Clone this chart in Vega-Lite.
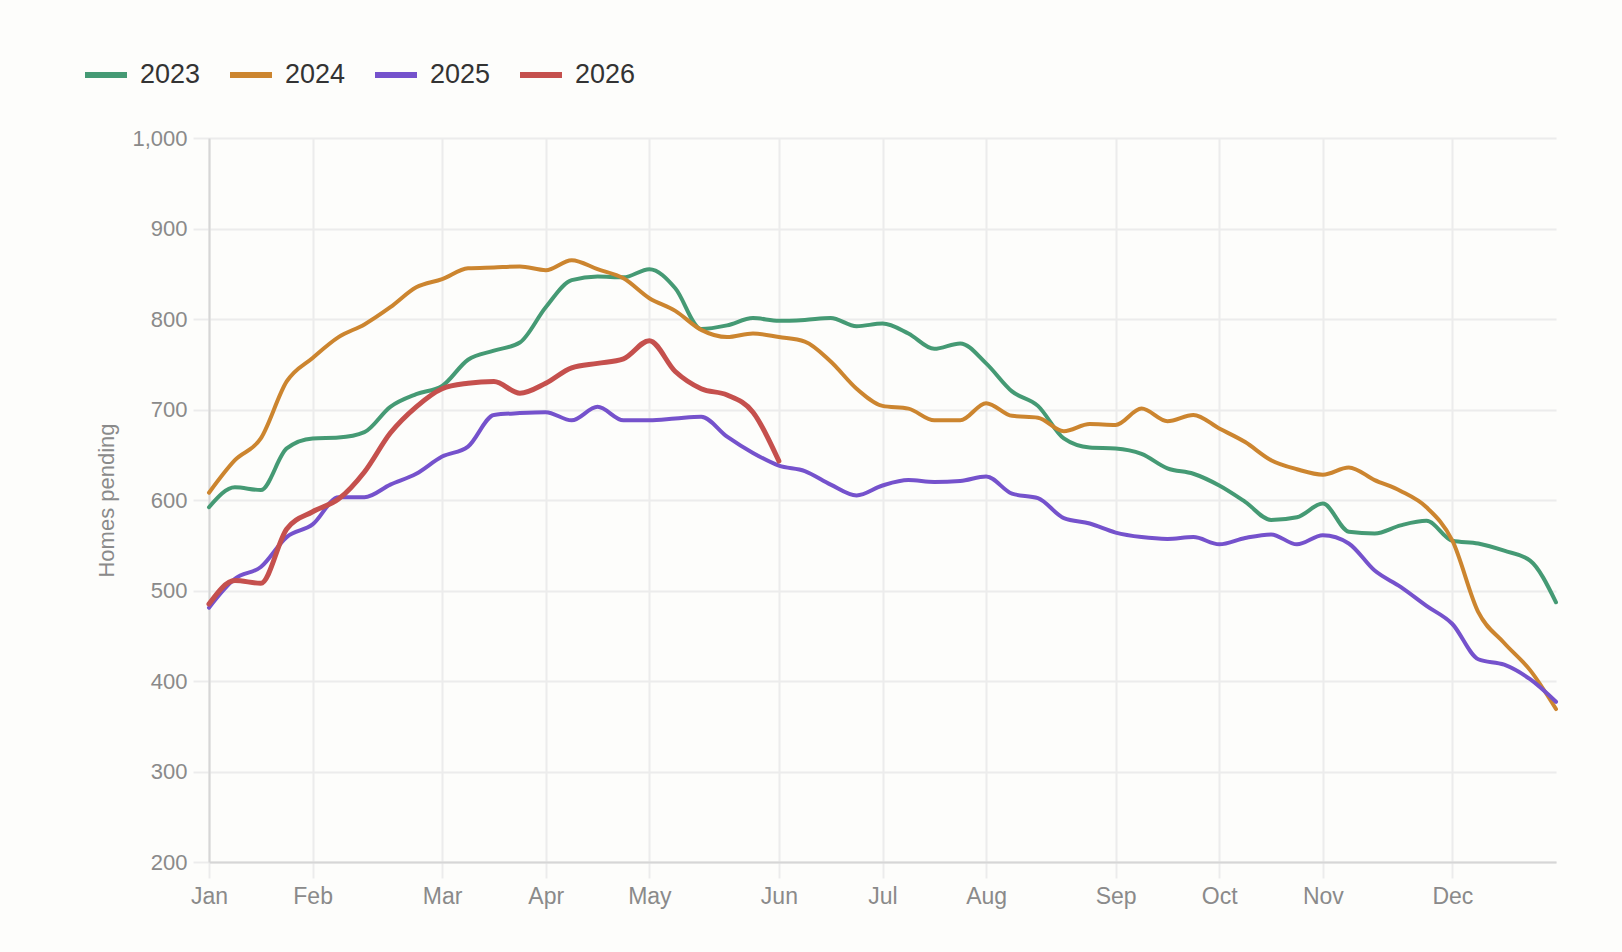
{
  "$schema": "https://vega.github.io/schema/vega-lite/v6.json",
  "description": "Homes pending per week, 2023-2026",
  "autosize": "none",
  "width": 1347,
  "height": 724,
  "padding": {"left": 209, "top": 138, "right": 66, "bottom": 90},
  "background": "#fdfdfb",
  "data": {
    "values": [
      {"week": 0, "year": "2023", "homes": 592}, {"week": 1, "year": "2023", "homes": 614}, {"week": 2, "year": "2023", "homes": 611},
      {"week": 3, "year": "2023", "homes": 657}, {"week": 4, "year": "2023", "homes": 668}, {"week": 5, "year": "2023", "homes": 669},
      {"week": 6, "year": "2023", "homes": 675}, {"week": 7, "year": "2023", "homes": 703}, {"week": 8, "year": "2023", "homes": 717},
      {"week": 9, "year": "2023", "homes": 726}, {"week": 10, "year": "2023", "homes": 755}, {"week": 11, "year": "2023", "homes": 765},
      {"week": 12, "year": "2023", "homes": 774}, {"week": 13, "year": "2023", "homes": 813}, {"week": 14, "year": "2023", "homes": 843},
      {"week": 15, "year": "2023", "homes": 847}, {"week": 16, "year": "2023", "homes": 846}, {"week": 17, "year": "2023", "homes": 855},
      {"week": 18, "year": "2023", "homes": 834}, {"week": 19, "year": "2023", "homes": 789}, {"week": 20, "year": "2023", "homes": 793},
      {"week": 21, "year": "2023", "homes": 801}, {"week": 22, "year": "2023", "homes": 798}, {"week": 23, "year": "2023", "homes": 799},
      {"week": 24, "year": "2023", "homes": 801}, {"week": 25, "year": "2023", "homes": 792}, {"week": 26, "year": "2023", "homes": 795},
      {"week": 27, "year": "2023", "homes": 784}, {"week": 28, "year": "2023", "homes": 767}, {"week": 29, "year": "2023", "homes": 773},
      {"week": 30, "year": "2023", "homes": 751}, {"week": 31, "year": "2023", "homes": 720}, {"week": 32, "year": "2023", "homes": 704},
      {"week": 33, "year": "2023", "homes": 668}, {"week": 34, "year": "2023", "homes": 658}, {"week": 35, "year": "2023", "homes": 657},
      {"week": 36, "year": "2023", "homes": 651}, {"week": 37, "year": "2023", "homes": 635}, {"week": 38, "year": "2023", "homes": 629},
      {"week": 39, "year": "2023", "homes": 616}, {"week": 40, "year": "2023", "homes": 598}, {"week": 41, "year": "2023", "homes": 578},
      {"week": 42, "year": "2023", "homes": 581}, {"week": 43, "year": "2023", "homes": 596}, {"week": 44, "year": "2023", "homes": 565},
      {"week": 45, "year": "2023", "homes": 563}, {"week": 46, "year": "2023", "homes": 572}, {"week": 47, "year": "2023", "homes": 577},
      {"week": 48, "year": "2023", "homes": 555}, {"week": 49, "year": "2023", "homes": 552}, {"week": 50, "year": "2023", "homes": 544},
      {"week": 51, "year": "2023", "homes": 533}, {"week": 52, "year": "2023", "homes": 487},

      {"week": 0, "year": "2024", "homes": 608}, {"week": 1, "year": "2024", "homes": 644}, {"week": 2, "year": "2024", "homes": 668},
      {"week": 3, "year": "2024", "homes": 731}, {"week": 4, "year": "2024", "homes": 757}, {"week": 5, "year": "2024", "homes": 780},
      {"week": 6, "year": "2024", "homes": 794}, {"week": 7, "year": "2024", "homes": 813}, {"week": 8, "year": "2024", "homes": 835},
      {"week": 9, "year": "2024", "homes": 844}, {"week": 10, "year": "2024", "homes": 856}, {"week": 11, "year": "2024", "homes": 857},
      {"week": 12, "year": "2024", "homes": 858}, {"week": 13, "year": "2024", "homes": 854}, {"week": 14, "year": "2024", "homes": 865},
      {"week": 15, "year": "2024", "homes": 855}, {"week": 16, "year": "2024", "homes": 845}, {"week": 17, "year": "2024", "homes": 823},
      {"week": 18, "year": "2024", "homes": 809}, {"week": 19, "year": "2024", "homes": 788}, {"week": 20, "year": "2024", "homes": 780},
      {"week": 21, "year": "2024", "homes": 784}, {"week": 22, "year": "2024", "homes": 780}, {"week": 23, "year": "2024", "homes": 775},
      {"week": 24, "year": "2024", "homes": 753}, {"week": 25, "year": "2024", "homes": 723}, {"week": 26, "year": "2024", "homes": 704},
      {"week": 27, "year": "2024", "homes": 701}, {"week": 28, "year": "2024", "homes": 688}, {"week": 29, "year": "2024", "homes": 688},
      {"week": 30, "year": "2024", "homes": 707}, {"week": 31, "year": "2024", "homes": 693}, {"week": 32, "year": "2024", "homes": 691},
      {"week": 33, "year": "2024", "homes": 676}, {"week": 34, "year": "2024", "homes": 684}, {"week": 35, "year": "2024", "homes": 683},
      {"week": 36, "year": "2024", "homes": 701}, {"week": 37, "year": "2024", "homes": 687}, {"week": 38, "year": "2024", "homes": 694},
      {"week": 39, "year": "2024", "homes": 679}, {"week": 40, "year": "2024", "homes": 664}, {"week": 41, "year": "2024", "homes": 644},
      {"week": 42, "year": "2024", "homes": 634}, {"week": 43, "year": "2024", "homes": 628}, {"week": 44, "year": "2024", "homes": 636},
      {"week": 45, "year": "2024", "homes": 622}, {"week": 46, "year": "2024", "homes": 610}, {"week": 47, "year": "2024", "homes": 592},
      {"week": 48, "year": "2024", "homes": 555}, {"week": 49, "year": "2024", "homes": 476}, {"week": 50, "year": "2024", "homes": 442},
      {"week": 51, "year": "2024", "homes": 412}, {"week": 52, "year": "2024", "homes": 369},

      {"week": 0, "year": "2025", "homes": 481}, {"week": 1, "year": "2025", "homes": 513}, {"week": 2, "year": "2025", "homes": 526},
      {"week": 3, "year": "2025", "homes": 559}, {"week": 4, "year": "2025", "homes": 573}, {"week": 5, "year": "2025", "homes": 603},
      {"week": 6, "year": "2025", "homes": 603}, {"week": 7, "year": "2025", "homes": 617}, {"week": 8, "year": "2025", "homes": 629},
      {"week": 9, "year": "2025", "homes": 648}, {"week": 10, "year": "2025", "homes": 659}, {"week": 11, "year": "2025", "homes": 694},
      {"week": 12, "year": "2025", "homes": 696}, {"week": 13, "year": "2025", "homes": 697}, {"week": 14, "year": "2025", "homes": 688},
      {"week": 15, "year": "2025", "homes": 703}, {"week": 16, "year": "2025", "homes": 688}, {"week": 17, "year": "2025", "homes": 688},
      {"week": 18, "year": "2025", "homes": 690}, {"week": 19, "year": "2025", "homes": 692}, {"week": 20, "year": "2025", "homes": 670},
      {"week": 21, "year": "2025", "homes": 652}, {"week": 22, "year": "2025", "homes": 638}, {"week": 23, "year": "2025", "homes": 632},
      {"week": 24, "year": "2025", "homes": 617}, {"week": 25, "year": "2025", "homes": 605}, {"week": 26, "year": "2025", "homes": 616},
      {"week": 27, "year": "2025", "homes": 622}, {"week": 28, "year": "2025", "homes": 620}, {"week": 29, "year": "2025", "homes": 621},
      {"week": 30, "year": "2025", "homes": 626}, {"week": 31, "year": "2025", "homes": 607}, {"week": 32, "year": "2025", "homes": 602},
      {"week": 33, "year": "2025", "homes": 580}, {"week": 34, "year": "2025", "homes": 574}, {"week": 35, "year": "2025", "homes": 564},
      {"week": 36, "year": "2025", "homes": 559}, {"week": 37, "year": "2025", "homes": 557}, {"week": 38, "year": "2025", "homes": 559},
      {"week": 39, "year": "2025", "homes": 551}, {"week": 40, "year": "2025", "homes": 558}, {"week": 41, "year": "2025", "homes": 562},
      {"week": 42, "year": "2025", "homes": 551}, {"week": 43, "year": "2025", "homes": 561}, {"week": 44, "year": "2025", "homes": 552},
      {"week": 45, "year": "2025", "homes": 522}, {"week": 46, "year": "2025", "homes": 504}, {"week": 47, "year": "2025", "homes": 483},
      {"week": 48, "year": "2025", "homes": 463}, {"week": 49, "year": "2025", "homes": 424}, {"week": 50, "year": "2025", "homes": 418},
      {"week": 51, "year": "2025", "homes": 402}, {"week": 52, "year": "2025", "homes": 377},

      {"week": 0, "year": "2026", "homes": 485}, {"week": 1, "year": "2026", "homes": 511}, {"week": 2, "year": "2026", "homes": 508},
      {"week": 3, "year": "2026", "homes": 568}, {"week": 4, "year": "2026", "homes": 587}, {"week": 5, "year": "2026", "homes": 601},
      {"week": 6, "year": "2026", "homes": 631}, {"week": 7, "year": "2026", "homes": 674}, {"week": 8, "year": "2026", "homes": 703},
      {"week": 9, "year": "2026", "homes": 723}, {"week": 10, "year": "2026", "homes": 729}, {"week": 11, "year": "2026", "homes": 731},
      {"week": 12, "year": "2026", "homes": 718}, {"week": 13, "year": "2026", "homes": 729}, {"week": 14, "year": "2026", "homes": 746},
      {"week": 15, "year": "2026", "homes": 751}, {"week": 16, "year": "2026", "homes": 756}, {"week": 17, "year": "2026", "homes": 776},
      {"week": 18, "year": "2026", "homes": 742}, {"week": 19, "year": "2026", "homes": 723}, {"week": 20, "year": "2026", "homes": 716},
      {"week": 21, "year": "2026", "homes": 697}, {"week": 22, "year": "2026", "homes": 643}
    ]
  },
  "mark": {"type": "line", "interpolate": "monotone", "strokeCap": "round", "strokeJoin": "round"},
  "encoding": {
    "x": {
      "field": "week",
      "type": "quantitative",
      "scale": {"domain": [0, 52], "nice": false, "zero": false},
      "axis": {
        "title": null,
        "values": [0, 4, 9, 13, 17, 22, 26, 30, 35, 39, 43, 48],
        "labelExpr": "['Jan','Feb','Mar','Apr','May','Jun','Jul','Aug','Sep','Oct','Nov','Dec'][indexof([0,4,9,13,17,22,26,30,35,39,43,48], datum.value)]",
        "labelFlush": false,
        "labelFontSize": 23,
        "labelPadding": 7
      }
    },
    "y": {
      "field": "homes",
      "type": "quantitative",
      "scale": {"domain": [200, 1000], "nice": false, "zero": false},
      "axis": {
        "title": "Homes pending",
        "values": [200, 300, 400, 500, 600, 700, 800, 900, 1000],
        "format": ",.0f",
        "labelFlush": false,
        "labelFontSize": 22,
        "labelPadding": 6,
        "titleFontSize": 22,
        "titleFontWeight": "normal",
        "titleColor": "#8a8a8a",
        "titleX": -96,
        "titleY": 362,
        "titleAngle": 270,
        "titleAlign": "center",
        "titleBaseline": "alphabetic"
      }
    },
    "color": {
      "field": "year",
      "type": "nominal",
      "scale": {
        "domain": ["2023", "2024", "2025", "2026"],
        "range": ["#459a74", "#cc852f", "#7552cc", "#c5504d"]
      },
      "legend": {
        "title": null,
        "orient": "none",
        "direction": "horizontal",
        "legendX": -127,
        "legendY": -87,
        "symbolType": "stroke",
        "symbolSize": 1764,
        "symbolStrokeWidth": 6,
        "symbolOpacity": 1,
        "labelFontSize": 27,
        "labelColor": "#333333",
        "labelOffset": 10,
        "columnPadding": 17
      }
    },
    "strokeWidth": {
      "condition": {"test": "datum.year == '2026'", "value": 5},
      "value": 4
    }
  },
  "config": {
    "font": "Liberation Sans",
    "view": {"stroke": null},
    "axis": {
      "labelColor": "#8a8a8a",
      "labelFont": "Liberation Sans",
      "gridColor": "#ececec",
      "gridWidth": 2,
      "tickColor": "#ececec",
      "tickWidth": 2,
      "tickSize": 16,
      "domainColor": "#d6d6d6",
      "domainWidth": 2
    },
    "legend": {"labelFont": "Liberation Sans"}
  }
}
